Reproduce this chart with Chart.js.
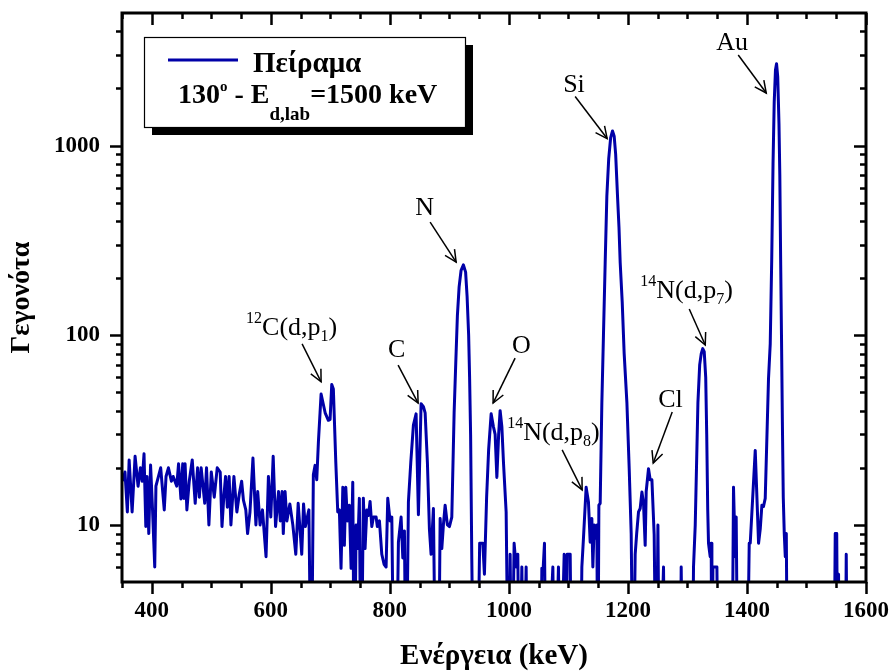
<!DOCTYPE html>
<html><head><meta charset="utf-8">
<script src="https://cdn.jsdelivr.net/npm/chart.js@4/dist/chart.umd.min.js"></script>
<style>html,body{margin:0;padding:0;background:#fff;}#wrap{width:893px;height:672px;}</style>
</head><body><div id="wrap"><canvas id="c" width="893" height="672"></canvas></div>
<script>
// ---- data ----
const energy = [351,355,359,362,367,372,377,381,384,387,390,392,395,398,401,405,407,415,421,424,428,433,436,442,445,449,452,454,456,459,463,468,473,477,480,483,489,492,496,500,505,510,515,518,521,524,527,530,533,538,543,547,551,554,558,561,565,570,575,578,582,586,592,596,600,604,608,613,616,619,621,624,627,632,637,642,646,652,655,658,664,668,671.5,674.4,677.2,680,684.5,691.3,696.7,699.6,702.4,705.1,709.2,712.5,715.2,718,721,723.6,726,728.7,732,734.9,737.7,740.4,743.3,746,748.8,751.7,755.5,758.4,761.3,764,766.8,769.7,772.4,776.9,779,782.5,786.5,790.3,793.7,796.5,800.4,803.3,807.1,810.5,814.4,818.9,821.8,824.5,827.3,831.2,835.2,839.6,844.1,848,852.5,856.4,859.3,863.1,866.5,869.3,873.2,877.2,881.6,884.5,887.3,890,892.9,896.7,900.1,904.1,908,910.8,913.5,916.4,919.7,923.6,927.3,929.8,932.4,934,935.7,937.7,940.8,946.7,950.9,956.2,958.9,962.6,966,970.2,974,976.9,979.8,982.8,985.3,988.2,990.9,995.4,999.3,1002.1,1005,1008.8,1012.2,1015,1017.7,1021.8,1024.8,1029,1031.5,1053,1055.4,1057.6,1059.8,1062.6,1073.9,1076.9,1083.3,1086.2,1092.9,1095.4,1098,1100.5,1103,1105.8,1119.8,1122.6,1125.3,1129.8,1133.7,1136.6,1139.4,1141.1,1143.3,1146.6,1147.8,1149.5,1151.2,1153.4,1156.2,1158.9,1161.8,1164.6,1167.7,1171,1174.1,1176.9,1179.4,1182.5,1185,1187,1190.4,1193.7,1198.3,1202.1,1205.5,1208.8,1212.2,1214.7,1217.8,1220.6,1223.5,1226.2,1229,1230.7,1234.6,1237.4,1240.3,1244.1,1247.5,1250.4,1253,1259.8,1262.6,1287.8,1289.5,1292.4,1308,1310.2,1313.1,1317.6,1320.6,1323.2,1325.7,1328.2,1330.7,1332.4,1334.1,1335.4,1338.2,1339.9,1341.1,1342.8,1346.7,1349.5,1352.2,1374.7,1377.4,1380.3,1381.9,1384.8,1399.9,1403.8,1405.5,1413.9,1419.5,1422.3,1425.1,1427.8,1430.7,1436.2,1439.1,1441.6,1443.8,1445.8,1447.9,1449.7,1451.7,1453.8,1455.2,1456.6,1458,1459.5,1461,1462.7,1464.4,1466.1,1468.2,1546,1548.3,1550.8,1552.9,1553.9,1555,1565,1566.8,1569,1600];
const counts = [17,19,11.7,22,11.7,23,16,20,17,23.7,9.8,18,9,20.7,12.7,6,16,20,12,18,20,17,18,16,21,13.7,21,13.8,21,12,17,22,13,20,14,20,13,20,10,19,14,20,19,9.8,14,18,12.4,18,10,18,11.7,14.5,17,13.5,12,9,11.7,22.5,10,15,10,12,6.8,18,11,23,9.8,15,10.5,15,9,15,10.5,12.9,10,7,13,7,12.9,9.8,12,0,18.4,20.6,17.3,27.4,49,39,35.6,36,55,52,21.4,11.7,12,5.9,15.8,7.8,15.8,10.5,12.7,5.9,16.8,0,10,7.5,13.8,0,13.8,7.5,12,11.2,13.3,9.8,11,11,9.8,10.5,7,6.2,6,13.8,10.5,11,0,0,8.1,11,6.7,9.3,0,13.2,21.4,33.6,38.5,11.3,43.5,42,39,21.4,9.5,7,12.2,0,0,10.8,7.5,10,12.7,10,9.8,11,39,72,127,180,220,235,215,160,100,60,30,6.6,0,0,8,8,5.5,14,25,38.5,33,30,17.8,30,40,33,21.4,11.7,0,7,0,8,6,7,0,6,0,6,0,0,5.9,5.9,8,0,6,0,6,0,7,0,7,7,7,0,0,6,8.5,15.8,13.2,8.1,10.8,6,10,8.5,10,0,12.7,13,44,100,242,543,850,1100,1194,1120,900,543,370,242,150,80,44,20,9,0,7,9,11.7,12.2,14.9,13,7.8,15,19.8,17.3,17.3,8.9,0,10,0,6,0,0,6,0,0,6,10,44,70,80,85,82,60,30,12,8,6.8,8,0,6,6,6,0,0,15.8,6.8,11,0,0,8,8,24.7,8,9.5,12.7,12.5,13.8,59,90,250,800,1700,2500,2700,2300,1300,700,250,100,35,14,9,6.8,9,0,0,9,9,0,5.5,0,0,7,0,0];
const xTickLabels = [400, 600, 800, 1000, 1200, 1400, 1600];
const yTickLabels = [10, 100, 1000];
const seriesName = 'Πείραμα';
const xTitle = 'Ενέργεια (keV)';
const yTitle = 'Γεγονότα';
// peak labels (markup: ^{} superscript, _{} subscript) and the data point each arrow points at
const peakNames = ['^{12}C(d,p_{1})', 'C', 'N', 'O', '^{14}N(d,p_{8})', 'Si', 'Cl', '^{14}N(d,p_{7})', 'Au'];
const arrowTipEnergy = [684.5, 847.5, 911.4, 973.5, 1123.1, 1165.1, 1242.5, 1329.9, 1432.4];
const arrowTipCounts = [56.8, 43.9, 243, 43.9, 15.3, 1089, 21.2, 88.8, 1893];

// ---- style / layout (pixel offsets from arrow tip: arrow start dx,dy ; label left dx, baseline dy) ----
const arrowLayout = [
  [-19,-38,-75,-47], [-20,-38,-30,-46], [-26,-40,-41,-47], [22,-45,19,-50],
  [-20,-40,-75,-50], [-32,-42,-44,-47], [19,-51,5,-56], [-16,-36,-65,-47], [-28,-38,-50,-43]
];
const LINE_COLOR = '#0000a8';
const SERIF = '"Liberation Serif", "Times New Roman", serif';

function parseMarkup(s) {
  const parts = []; let i = 0, buf = '';
  while (i < s.length) {
    if ((s[i] === '^' || s[i] === '_') && s[i+1] === '{') {
      if (buf) { parts.push({t: buf, k: 'n'}); buf = ''; }
      const end = s.indexOf('}', i);
      parts.push({t: s.slice(i+2, end), k: s[i] === '^' ? 'sup' : 'sub'});
      i = end + 1;
    } else { buf += s[i]; i++; }
  }
  if (buf) parts.push({t: buf, k: 'n'});
  return parts;
}
function drawRich(ctx, x, y, parts, size, weight) {
  let cx = x;
  for (const p of parts) {
    const small = p.k !== 'n';
    const sz = small ? p.small : size;
    ctx.font = `${weight} ${sz}px ${SERIF}`;
    const dy = p.k === 'sup' ? p.up : (p.k === 'sub' ? p.down : 0);
    ctx.fillText(p.t, cx, y + dy);
    cx += ctx.measureText(p.t).width;
  }
  return cx;
}
function zeroPad(s) { s.paddingTop = 0; s.paddingBottom = 0; s.paddingLeft = 0; s.paddingRight = 0; }

const decor = {
  id: 'decor',
  afterDraw(chart) {
    const {ctx, chartArea: a, scales: {x, y}} = chart;
    ctx.save();
    ctx.strokeStyle = '#000';
    ctx.lineCap = 'butt';
    // ticks
    const xMajor = new Set(xTickLabels);
    for (let v = 350; v <= 1600; v += 50) {
      const px = Math.round(x.getPixelForValue(v)) + 0.5;
      const len = xMajor.has(v) ? 12 : 6;
      ctx.lineWidth = 2.5;
      ctx.beginPath();
      ctx.moveTo(px, a.bottom); ctx.lineTo(px, a.bottom + len);
      ctx.moveTo(px, a.top); ctx.lineTo(px, a.top + len);
      ctx.stroke();
    }
    const yMajor = new Set(yTickLabels);
    for (const d of [1, 10, 100, 1000]) {
      for (let m = 1; m <= 9; m++) {
        const v = m * d;
        if (v <= 5 || v >= 5000) continue;
        const py = Math.round(y.getPixelForValue(v)) + 0.5;
        const len = yMajor.has(v) ? 12 : 6;
        ctx.lineWidth = 2.5;
        ctx.beginPath();
        ctx.moveTo(a.left - len, py); ctx.lineTo(a.left, py);
        ctx.moveTo(a.right - len, py); ctx.lineTo(a.right, py);
        ctx.stroke();
      }
    }
    // frame
    ctx.lineWidth = 3;
    ctx.strokeRect(a.left, a.top, a.right - a.left, a.bottom - a.top);

    // peak labels and arrows
    ctx.fillStyle = '#000';
    ctx.textBaseline = 'alphabetic';
    ctx.textAlign = 'left';
    peakNames.forEach((name, i) => {
      const tx = x.getPixelForValue(arrowTipEnergy[i]);
      const ty = y.getPixelForValue(arrowTipCounts[i]);
      const [sdx, sdy, ldx, ldy] = arrowLayout[i];
      const sx = tx + sdx, sy = ty + sdy;
      ctx.lineWidth = 1.5;
      ctx.beginPath(); ctx.moveTo(sx, sy); ctx.lineTo(tx, ty); ctx.stroke();
      const ang = Math.atan2(ty - sy, tx - sx);
      const hl = 13, ha = 0.45;
      ctx.beginPath();
      ctx.moveTo(tx - hl * Math.cos(ang - ha), ty - hl * Math.sin(ang - ha));
      ctx.lineTo(tx, ty);
      ctx.lineTo(tx - hl * Math.cos(ang + ha), ty - hl * Math.sin(ang + ha));
      ctx.stroke();
      const parts = parseMarkup(name).map(p => Object.assign(p, {small: 16, up: -12, down: 6}));
      drawRich(ctx, tx + ldx, ty + ldy, parts, 26, 'normal');
    });

    // legend box
    const bx = a.left + 22, by = a.top + 24, bw = 321, bh = 90;
    ctx.fillStyle = '#000';
    ctx.fillRect(bx + 8, by + 8, bw, bh);
    ctx.fillStyle = '#fff';
    ctx.fillRect(bx, by, bw, bh);
    ctx.lineWidth = 1.2;
    ctx.strokeStyle = '#000';
    ctx.strokeRect(bx + 0.5, by + 0.5, bw, bh);
    ctx.strokeStyle = LINE_COLOR;
    ctx.lineWidth = 3;
    ctx.beginPath(); ctx.moveTo(bx + 24, by + 23); ctx.lineTo(bx + 94, by + 23); ctx.stroke();
    ctx.fillStyle = '#000';
    ctx.font = `bold 29px ${SERIF}`;
    ctx.fillText(seriesName, bx + 109, by + 35);
    drawRich(ctx, bx + 34, by + 66, [
      {t: '130', k: 'n'}, {t: 'o', k: 'sup', small: 15, up: -12},
      {t: ' - E', k: 'n'}, {t: 'd,lab', k: 'sub', small: 19, down: 17},
      {t: '=1500 keV', k: 'n'}
    ], 28, 'bold');
    ctx.restore();
  }
};

const tickFont = {family: SERIF, weight: 'bold', size: 23};
new Chart(document.getElementById('c'), {
  type: 'line',
  data: {
    datasets: [{
      label: seriesName,
      data: energy.map((e, i) => ({x: e, y: counts[i] > 0 ? counts[i] : 1})),
      borderColor: LINE_COLOR, borderWidth: 3, pointRadius: 0, tension: 0, fill: false,
      borderJoinStyle: 'round'
    }]
  },
  options: {
    responsive: false, animation: false, devicePixelRatio: 1,
    layout: {padding: {top: 13, right: 27, left: 0, bottom: 0}},
    plugins: {legend: {display: false}, tooltip: {enabled: false}},
    scales: {
      x: {
        type: 'linear', min: 350, max: 1600,
        afterBuildTicks: s => { s.ticks = xTickLabels.map(v => ({value: v})); },
        afterFit: s => { s.height = 90; zeroPad(s); },
        grid: {display: false, drawTicks: false}, border: {display: false},
        ticks: {padding: 15, font: tickFont, color: '#000', callback: v => String(v), maxRotation: 0, autoSkip: false},
        title: {display: true, text: xTitle, color: '#000', font: {family: SERIF, weight: 'bold', size: 29, lineHeight: 1}, padding: {top: 0, bottom: 1}}
      },
      y: {
        type: 'logarithmic', min: 5, max: 5000,
        afterBuildTicks: s => { s.ticks = yTickLabels.map(v => ({value: v})); },
        afterFit: s => { s.width = 122; zeroPad(s); },
        grid: {display: false, drawTicks: false}, border: {display: false},
        ticks: {padding: 22, font: tickFont, color: '#000', callback: v => String(v), autoSkip: false},
        title: {display: true, text: yTitle, color: '#000', font: {family: SERIF, weight: 'bold', size: 28, lineHeight: 1}, padding: {top: 8, bottom: 0}}
      }
    }
  },
  plugins: [decor]
});
</script>
</body></html>
